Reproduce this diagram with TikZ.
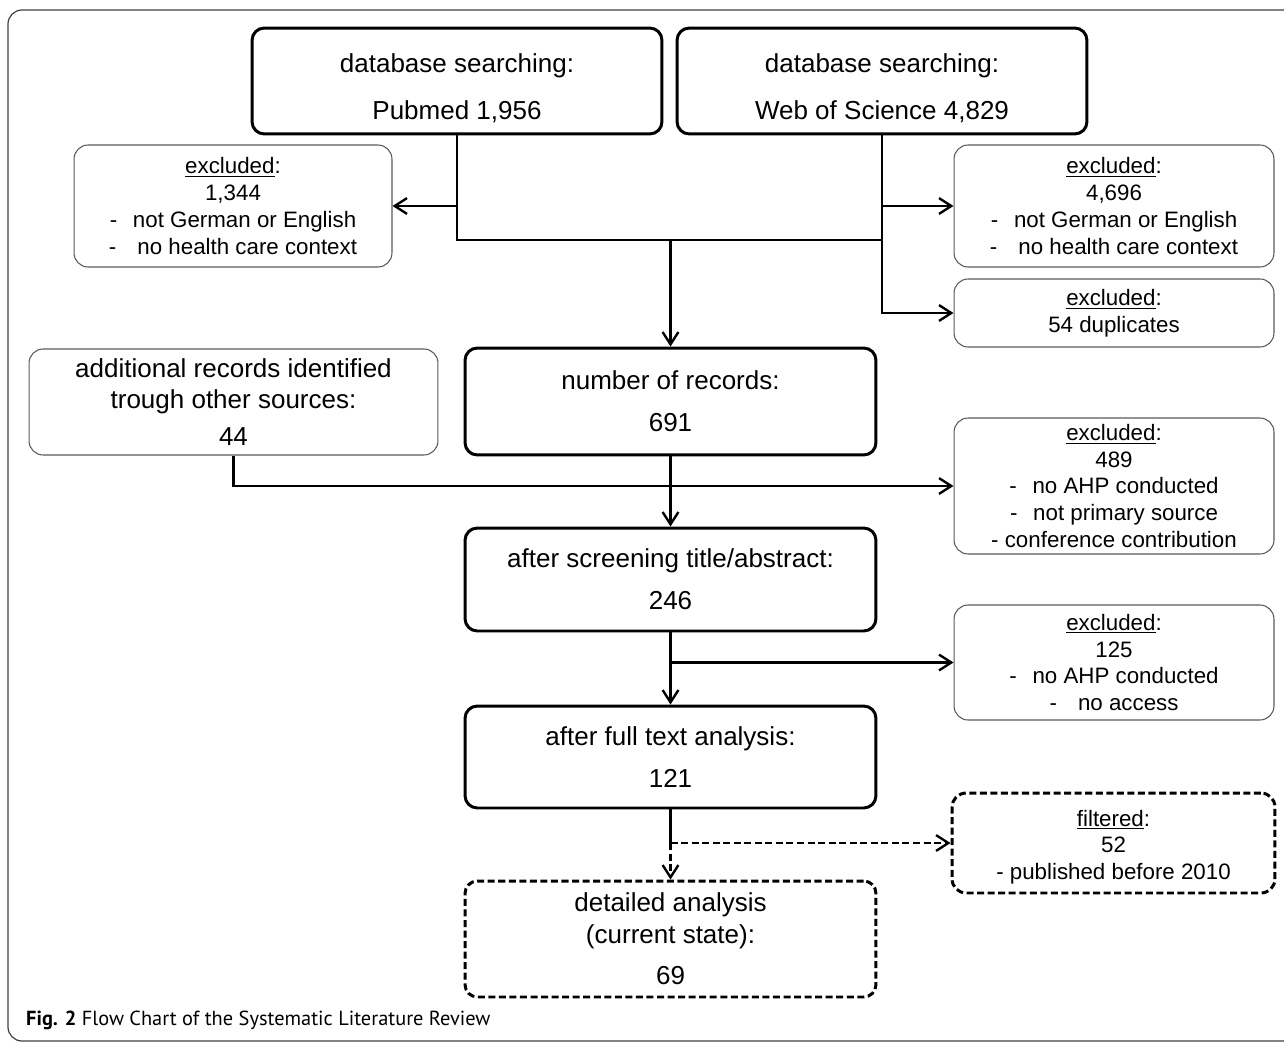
\documentclass[tikz,border=0pt]{standalone}
\usepackage{fontspec}
\setmainfont{Liberation Sans}
\newfontfamily\capfont{PT Sans}
\usetikzlibrary{positioning, arrows.meta, calc}

\begin{document}
\begin{tikzpicture}[
    x=0.02cm, y=-0.02cm,
    > = {Straight Barb[length=7pt, width=9pt]}, line width=1.35pt,
    mainbox/.style={rectangle, draw, rounded corners=7pt, line width=1.7pt, minimum width=8.22cm, align=center, font=\fontsize{14.8}{17.8}\selectfont},
    exbox/.style={rectangle, draw=black!65, rounded corners=8pt, line width=0.6pt, minimum width=6.4cm, align=center, font=\fontsize{12.7}{15.3}\selectfont},
    dsh/.style={dash pattern=on 4pt off 2pt}
]
    \useasboundingbox (0,0) rectangle (1284,1044);
    \draw[black!75, line width=0.7pt, rounded corners=8pt] (1300,1041) -- (8,1041) -- (8,10) -- (1300,10);

    \node[mainbox, minimum width=8.2cm, minimum height=2.12cm] (pub) at (457,81) {\rule{0pt}{19pt}database searching:\\[9pt] Pubmed 1,956};
    \node[mainbox, minimum width=8.2cm, minimum height=2.12cm] (wos) at (882,81) {\rule{0pt}{19pt}database searching:\\[9pt] Web of Science 4,829};

    \node[exbox, minimum width=6.36cm, minimum height=2.44cm] (ex1) at (233,206) {\underline{excluded}:\\ 1,344\\ -\hspace{9pt}not German or English\\ -\hspace{12pt}no health care context};
    \node[exbox, minimum height=2.44cm] (ex2) at (1114,206) {\underline{excluded}:\\ 4,696\\ -\hspace{9pt}not German or English\\ -\hspace{12pt}no health care context};
    \node[exbox, minimum height=1.36cm] (dup) at (1114,313) {\underline{excluded}:\\ 54 duplicates};

    \node[exbox, minimum width=8.18cm, minimum height=2.12cm, font=\fontsize{14.8}{17.8}\selectfont] (add) at (233.5,402) {additional records identified\\ trough other sources:\\[3pt] 44};
    \node[mainbox, minimum height=2.14cm] (rec) at (670.5,401.5) {number of records:\\[6pt] 691};
    \node[exbox, minimum height=2.72cm] (ex4) at (1114,486) {\underline{excluded}:\\ 489\\ -\hspace{9pt}no AHP conducted\\ -\hspace{9pt}not primary source\\ - conference contribution};

    \node[mainbox, minimum height=2.06cm] (scr) at (670.5,579.5) {after screening title/abstract:\\[6pt] 246};
    \node[exbox, minimum height=2.3cm] (ex5) at (1114,662.5) {\underline{excluded}:\\ 125\\ -\hspace{9pt}no AHP conducted\\ -\hspace{12pt}no access};

    \node[mainbox, minimum height=2.04cm] (full) at (670.5,757) {after full text analysis:\\[6pt] 121};
    \node[exbox, dsh, draw=black, line width=1.7pt, minimum width=6.46cm, minimum height=2cm] (filt) at (1113.5,843) {\rule{0pt}{14pt}\underline{filtered}:\\ 52\\ - published before 2010};
    \node[mainbox, dsh, minimum height=2.32cm] (det) at (670.5,939) {detailed analysis\\ (current state):\\[6pt] 69};

    \coordinate (j1) at (rec.north |- 0,240);
    \coordinate (j2) at (full.south |- filt);

    \draw (pub.south) |- (j1) -| (wos.south);
    \draw[->] (pub.south |- ex1) -- (ex1);
    \draw[->] (wos.south |- ex2) -- (ex2);
    \draw[->] (wos.south) |- (dup);
    \draw[->] (j1) -- (rec);
    \draw[->] (rec) -- (scr);
    \draw[->] (add.south) |- (ex4);
    \draw[->] (scr) -- (full);
    \draw[->] (scr.south |- ex5) -- (ex5);
    \draw (full.south) -- (j2);
    \draw[->, dsh] (j2) -- (det);
    \draw[->, dsh] (j2) -- (filt);

    \node[anchor=base west, inner sep=0, font=\capfont\fontsize{11.6}{14}\selectfont] (cap) at (25,1025) {\textbf{Fig. 2} Flow Chart of the Systematic Literature Review};
\end{tikzpicture}
\end{document}
